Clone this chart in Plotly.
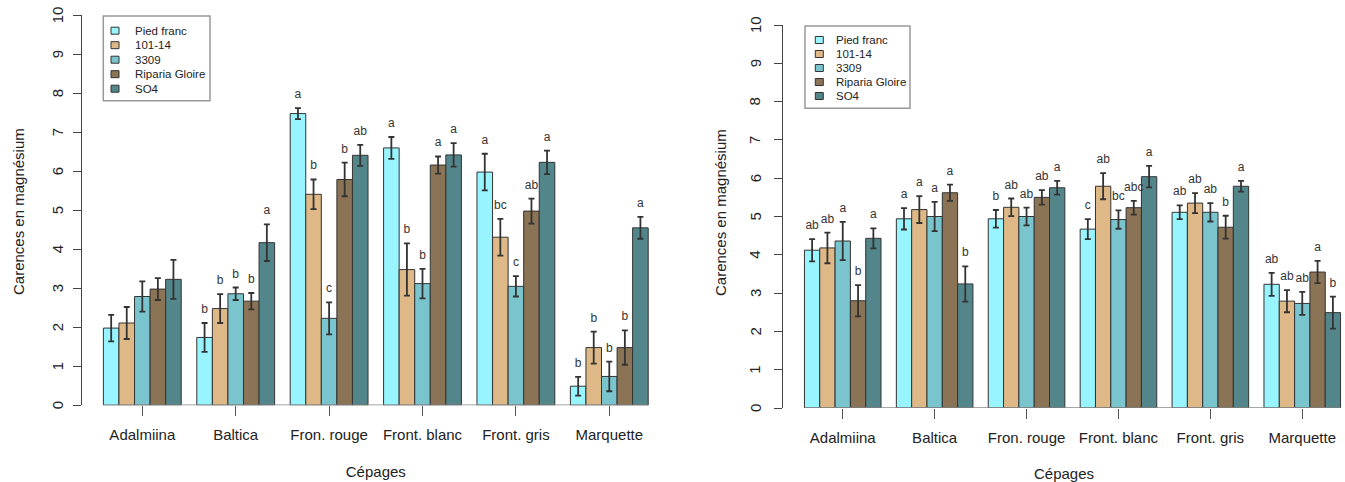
import plotly.graph_objects as go

categories = ["Adalmiina", "Baltica", "Fron. rouge", "Front. blanc", "Front. gris", "Marquette"]
series = ["Pied franc", "101-14", "3309", "Riparia Gloire", "SO4"]
colors = ["#98F5FF", "#DEB887", "#7AC5CD", "#8B7355", "#53868B"]
y_ticks = list(range(0, 11))

# Left panel
left_pied = [1.98, 1.74, 7.48, 6.60, 5.98, 0.49]
left_101 = [2.11, 2.48, 5.41, 3.48, 4.31, 1.48]
left_3309 = [2.79, 2.86, 2.23, 3.12, 3.05, 0.74]
left_riparia = [2.98, 2.67, 5.79, 6.16, 4.98, 1.48]
left_so4 = [3.23, 4.17, 6.41, 6.42, 6.23, 4.55]

left_pied_err = [0.34, 0.37, 0.14, 0.28, 0.47, 0.24]
left_101_err = [0.41, 0.37, 0.38, 0.67, 0.47, 0.41]
left_3309_err = [0.39, 0.16, 0.41, 0.38, 0.26, 0.38]
left_riparia_err = [0.28, 0.21, 0.43, 0.22, 0.32, 0.44]
left_so4_err = [0.50, 0.47, 0.27, 0.30, 0.30, 0.28]

left_pied_let = ["", "b", "a", "a", "a", "b"]
left_101_let = ["", "b", "b", "b", "bc", "b"]
left_3309_let = ["", "b", "c", "b", "c", "b"]
left_riparia_let = ["", "b", "b", "a", "ab", "b"]
left_so4_let = ["", "a", "ab", "a", "a", "a"]

# Right panel
right_pied = [4.12, 4.94, 4.94, 4.67, 5.11, 3.23]
right_101 = [4.18, 5.18, 5.24, 5.79, 5.35, 2.79]
right_3309 = [4.36, 5.00, 5.00, 4.92, 5.11, 2.73]
right_riparia = [2.80, 5.62, 5.50, 5.23, 4.72, 3.55]
right_so4 = [4.43, 3.24, 5.75, 6.04, 5.79, 2.49]

right_pied_err = [0.29, 0.28, 0.23, 0.26, 0.18, 0.30]
right_101_err = [0.40, 0.35, 0.23, 0.34, 0.26, 0.29]
right_3309_err = [0.50, 0.38, 0.23, 0.24, 0.24, 0.30]
right_riparia_err = [0.41, 0.21, 0.19, 0.18, 0.30, 0.29]
right_so4_err = [0.26, 0.46, 0.18, 0.28, 0.14, 0.42]

right_pied_let = ["ab", "a", "b", "c", "ab", "ab"]
right_101_let = ["ab", "a", "ab", "ab", "ab", "ab"]
right_3309_let = ["a", "a", "ab", "bc", "ab", "ab"]
right_riparia_let = ["b", "a", "ab", "abc", "b", "a"]
right_so4_let = ["a", "b", "a", "a", "a", "b"]

left_vals = [left_pied, left_101, left_3309, left_riparia, left_so4]
left_errs = [left_pied_err, left_101_err, left_3309_err, left_riparia_err, left_so4_err]
left_lets = [left_pied_let, left_101_let, left_3309_let, left_riparia_let, left_so4_let]
right_vals = [right_pied, right_101, right_3309, right_riparia, right_so4]
right_errs = [right_pied_err, right_101_err, right_3309_err, right_riparia_err, right_so4_err]
right_lets = [right_pied_let, right_101_let, right_3309_let, right_riparia_let, right_so4_let]

W, H = 1345, 482
FONT = "Liberation Sans, Arial, Helvetica, sans-serif"
TXT = "#222222"
n_ser = len(series)
bw = 1.0 / (n_ser + 1)


def px_x(p):
    return p / W


def px_y(p):
    return 1 - p / H


fig = go.Figure()

panels = [
    dict(vals=left_vals, errs=left_errs, lets=left_lets, xa="x", ya="y", ppu=39.0,
         axis_px=81.6, lab_px=57, title_px=18),
    dict(vals=right_vals, errs=right_errs, lets=right_lets, xa="x2", ya="y2", ppu=38.3,
         axis_px=783, lab_px=755, title_px=720),
]

for p in panels:
    for k in range(n_ser):
        xs = [i + (k - (n_ser - 1) / 2) * bw for i in range(len(categories))]
        fig.add_trace(go.Bar(
            x=xs, y=p["vals"][k], width=bw, name=series[k],
            marker=dict(color=colors[k], line=dict(color="#333333", width=1)),
            error_y=dict(type="data", array=p["errs"][k], color="#333333",
                         thickness=1.8, width=3),
            xaxis=p["xa"], yaxis=p["ya"], showlegend=False,
        ))
        off = 13.0 / p["ppu"]
        fig.add_trace(go.Scatter(
            x=xs, y=[v + e + off for v, e in zip(p["vals"][k], p["errs"][k])],
            text=p["lets"][k], mode="text", textposition="middle center",
            textfont=dict(family=FONT, size=12, color="#333333"),
            xaxis=p["xa"], yaxis=p["ya"], showlegend=False, hoverinfo="skip",
        ))
    # baseline under the bars
    fig.add_shape(type="line", xref=p["xa"], yref=p["ya"],
                  x0=-0.5 + bw / 2, x1=len(categories) - 0.5 - bw / 2, y0=0, y1=0,
                  line=dict(color="#888888", width=1.5))
    # rotated y tick labels centred on ticks (R style, las=0)
    for t in y_ticks:
        fig.add_annotation(xref="paper", yref=p["ya"], x=px_x(p["lab_px"]), y=t,
                           text=str(t), showarrow=False, textangle=-90,
                           xanchor="center", yanchor="middle",
                           font=dict(family=FONT, size=15, color=TXT))
    # y axis title
    fig.add_annotation(xref="paper", yref="paper", x=px_x(p["title_px"]),
                       y=px_y(212), text="Carences en magnésium", showarrow=False,
                       textangle=-90, xanchor="center", yanchor="middle",
                       font=dict(family=FONT, size=15, color=TXT))

xaxis_common = dict(
    tickmode="array", tickvals=list(range(len(categories))), ticktext=categories,
    ticks="outside", ticklen=10, tickcolor="#555555", tickwidth=1,
    showline=False, showgrid=False, zeroline=False, ticklabelstandoff=6,
    tickfont=dict(family=FONT, size=15, color=TXT),
    title=dict(text="Cépages", font=dict(family=FONT, size=15, color=TXT), standoff=24),
)
yaxis_common = dict(
    range=[0, 10], tickmode="array", tickvals=y_ticks, showticklabels=False,
    ticks="outside", ticklen=8, tickcolor="#444444", tickwidth=1,
    showline=True, linecolor="#444444", linewidth=1,
    showgrid=False, zeroline=False,
)

fig.update_layout(
    width=W, height=H, margin=dict(l=0, r=0, t=0, b=0),
    plot_bgcolor="white", paper_bgcolor="white",
    xaxis=dict(domain=[px_x(81.6), px_x(670)], range=[-0.65, 5.65], anchor="y", **xaxis_common),
    yaxis=dict(domain=[px_y(405.3), px_y(15.3)], anchor="x", **yaxis_common),
    xaxis2=dict(domain=[px_x(783), 1.0], range=[-0.65, 5.465], anchor="y2", **xaxis_common),
    yaxis2=dict(domain=[px_y(408), px_y(25)], anchor="x2", **yaxis_common),
    showlegend=False,
)

# manual legends (box, swatches, labels)
legends = [
    dict(box=(103.3, 16, 210, 100.7), y0=30.7, dy=14.5, sx=115, tx=133),
    dict(box=(805, 26, 910, 108.3), y0=40, dy=14.0, sx=819.3, tx=834),
]
for lg in legends:
    x0, y0, x1, y1 = lg["box"]
    fig.add_shape(type="rect", xref="paper", yref="paper",
                  x0=px_x(x0), x1=px_x(x1), y0=px_y(y1), y1=px_y(y0),
                  line=dict(color="#999999", width=1.5), fillcolor="rgba(0,0,0,0)")
    for k in range(n_ser):
        cy = lg["y0"] + k * lg["dy"]
        fig.add_shape(type="rect", xref="paper", yref="paper",
                      x0=px_x(lg["sx"] - 4), x1=px_x(lg["sx"] + 4),
                      y0=px_y(cy + 3.5), y1=px_y(cy - 3.5),
                      line=dict(color="#333333", width=1), fillcolor=colors[k])
        fig.add_annotation(xref="paper", yref="paper", x=px_x(lg["tx"]), y=px_y(cy),
                           text=series[k], showarrow=False, xanchor="left", yanchor="middle",
                           font=dict(family=FONT, size=11.5, color=TXT))

fig.write_html("out.html", config={"displayModeBar": False},
               post_script="document.body.style.margin='0';")
